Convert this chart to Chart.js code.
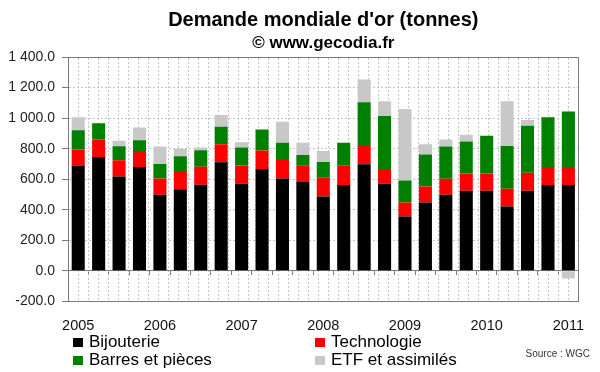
<!DOCTYPE html>
<html>
<head>
<meta charset="utf-8">
<script src="https://cdn.jsdelivr.net/npm/chart.js@4"></script>
<style>
  body { margin: 0; background: #fff; font-family: 'Liberation Sans', Arial, sans-serif; }
  #wrap { position: relative; width: 600px; height: 372px; }
  #box { position: absolute; left: 0; top: 0; width: 600px; height: 350px; }
  #legend { position: absolute; left: 73px; top: 333px; display: grid; grid-template-columns: 242px auto; font-size: 17px; line-height: 17.7px; color: #000; white-space: nowrap; }
  #legend .sw { display: inline-block; width: 10px; height: 9px; margin-right: 6px; }
  #source { position: absolute; right: 10px; top: 348px; font-size: 10px; line-height: 12px; color: #333; }
</style>
</head>
<body>
<div id="wrap">
  <div id="box"><canvas id="goldChart"></canvas></div>
  <div id="legend"></div>
  <div id="source">Source : WGC</div>
</div>
<script>
// quarters, 2005 T1 -> 2011 T1
var categories = ['2005 T1', '2005 T2', '2005 T3', '2005 T4',
                  '2006 T1', '2006 T2', '2006 T3', '2006 T4',
                  '2007 T1', '2007 T2', '2007 T3', '2007 T4',
                  '2008 T1', '2008 T2', '2008 T3', '2008 T4',
                  '2009 T1', '2009 T2', '2009 T3', '2009 T4',
                  '2010 T1', '2010 T2', '2010 T3', '2010 T4',
                  '2011 T1'];

// tonnes
var bijouterie  = [689, 746, 618, 680, 498, 535, 564, 711, 570, 667, 605, 582,
                   487, 562, 698, 570, 355, 447, 498, 524, 524, 421, 524, 562, 562];
var technologie = [105, 114, 106, 105, 107, 119, 118, 118, 119, 121, 121, 109,
                   125, 129, 120, 97, 92, 106, 105, 114, 114, 116, 119, 118, 118];
var barres      = [127, 107, 92, 70, 95, 96, 107, 114, 118, 138, 112, 68,
                   101, 147, 285, 346, 145, 208, 211, 209, 246, 281, 307, 325, 364];
var etf         = [84, 0, 35, 84, 114, 49, 18, 77, 35, 0, 138, 79,
                   72, 0, 150, 97, 467, 68, 46, 44, 0, 292, 37, 0, -50];

var yTicks = [-200, 0, 200, 400, 600, 800, 1000, 1200, 1400];

Chart.defaults.font.family = "'Liberation Sans', Arial, sans-serif";
Chart.defaults.color = '#222';

var gridGrey = '#c4c4c4';
var axisGrey = '#7a7a7a';

function fmt(v) {
    var parts = Math.abs(v).toFixed(1).split('.');
    parts[0] = parts[0].replace(/\B(?=(\d{3})+(?!\d))/g, ' ');
    return (v < 0 ? '-' : '') + parts.join('.');
}

var ctx = document.getElementById('goldChart').getContext('2d');
var goldChart = new Chart(ctx, {
    type: 'bar',
    data: {
        labels: categories,
        datasets: [
            { label: 'Bijouterie', data: bijouterie, backgroundColor: '#000000' },
            { label: 'Technologie', data: technologie, backgroundColor: '#ff0000' },
            { label: 'Barres et pièces', data: barres, backgroundColor: '#008000' },
            { label: 'ETF et assimilés', data: etf, backgroundColor: '#c8c8c8' }
        ]
    },
    options: {
        responsive: true,
        maintainAspectRatio: false,
        animation: false,
        datasets: { bar: { categoryPercentage: 1, barPercentage: 0.64, borderWidth: 0 } },
        layout: { padding: { left: 1.3, right: 19, top: 0, bottom: 0 } },
        plugins: {
            legend: { display: false },
            tooltip: { enabled: false },
            title: {
                display: true,
                text: "Demande mondiale d'or (tonnes)",
                color: '#000',
                fullSize: false,
                font: { size: 20, weight: 'bold' },
                padding: { top: 8.7, bottom: 0 }
            },
            subtitle: {
                display: true,
                text: '© www.gecodia.fr',
                color: '#000',
                fullSize: false,
                font: { size: 17, weight: 'bold' },
                padding: { top: 0, bottom: 3.9 }
            }
        },
        scales: {
            x: {
                stacked: true,
                offset: true,
                grid: { display: false, drawTicks: false },
                border: { display: true, color: axisGrey },
                ticks: {
                    autoSkip: false,
                    maxRotation: 0,
                    padding: 15.6,
                    color: '#111',
                    font: { size: 14.5 },
                    callback: function (v, i) {
                        var c = categories[i];
                        return c.slice(5) === 'T1' ? c.slice(0, 4) : '';
                    }
                }
            },
            x0: {
                type: 'category',
                position: { y: 0 },
                offset: true,
                grid: { offset: true, drawOnChartArea: false, drawTicks: true, tickLength: 4, tickColor: axisGrey, color: axisGrey },
                border: { display: true, color: axisGrey },
                ticks: { display: false }
            },
            xg: {
                type: 'linear',
                position: 'top',
                min: 0,
                max: categories.length,
                grid: { color: gridGrey, drawTicks: false },
                border: { display: true, color: axisGrey, dash: [2, 2] },
                ticks: { display: false, stepSize: 0.5 }
            },
            y: {
                stacked: true,
                min: yTicks[0],
                max: yTicks[yTicks.length - 1],
                afterBuildTicks: function (axis) {
                    axis.ticks = yTicks.map(function (v) { return { value: v }; });
                },
                grid: { color: gridGrey, tickColor: axisGrey, tickLength: 6, tickBorderDash: [] },
                border: { display: true, color: axisGrey, dash: [2, 2] },
                ticks: {
                    padding: 7,
                    color: '#222',
                    font: { size: 14 },
                    callback: fmt
                }
            },
            y2: {
                position: 'right',
                grid: { drawOnChartArea: false, drawTicks: false },
                border: { display: true, color: axisGrey },
                ticks: { display: false }
            }
        }
    }
});

// html legend, two columns
var legendEl = document.getElementById('legend');
goldChart.data.datasets.forEach(function (ds) {
    var item = document.createElement('div');
    var sw = document.createElement('span');
    sw.className = 'sw';
    sw.style.background = ds.backgroundColor;
    item.appendChild(sw);
    item.appendChild(document.createTextNode(ds.label));
    legendEl.appendChild(item);
});
</script>
</body>
</html>
